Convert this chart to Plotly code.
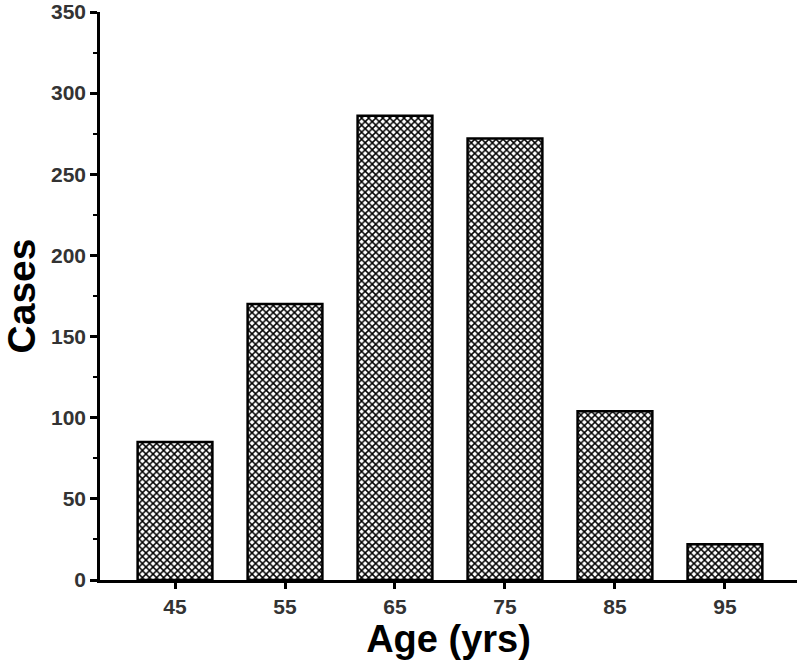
import plotly.graph_objects as go

ages = ["45", "55", "65", "75", "85", "95"]
cases = [85, 170, 286, 272, 104, 22]
y_ticks = [0, 50, 100, 150, 200, 250, 300, 350]

fig = go.Figure()
fig.add_trace(go.Bar(
    x=ages, y=cases, width=0.68,
    marker=dict(
        color="white",
        line=dict(color="black", width=2.5),
        pattern=dict(shape="x", size=5, solidity=0.5, fgcolor="black", bgcolor="white", fgopacity=1),
    ),
))

font_fam = "Liberation Sans, Arial, sans-serif"
fig.update_layout(
    width=800, height=667,
    margin=dict(l=100, r=3, t=12, b=87),
    plot_bgcolor="white", paper_bgcolor="white",
    showlegend=False,
    font=dict(family=font_fam),
    xaxis=dict(
        type="category", range=[-0.682, 5.655], automargin=False,
        showline=True, linecolor="black", linewidth=2.5,
        ticks="outside", ticklen=6, tickwidth=2.5, tickcolor="black",
        tickfont=dict(size=21, color="#333333", family=font_fam, weight="bold"),
        ticklabeloverflow="allow",
        showgrid=False, zeroline=False,
        title=dict(text="<b>Age (yrs)</b>", font=dict(size=38, color="black", family=font_fam), standoff=2),
    ),
    yaxis=dict(
        range=[0, 350], tickvals=y_ticks, automargin=False,
        showline=True, linecolor="black", linewidth=2.5,
        ticks="outside", ticklen=7, tickwidth=2.5, tickcolor="black",
        minor=dict(dtick=25, ticks="outside", ticklen=4, tickwidth=2, tickcolor="black"),
        tickfont=dict(size=21, color="#333333", family=font_fam, weight="bold"),
        ticklabeloverflow="allow",
        showgrid=False, zeroline=False,
        title=dict(text="<b>Cases</b>", font=dict(size=39, color="black", family=font_fam), standoff=19),
    ),
)

fig.write_html("out.html", config={"displayModeBar": False},
               post_script="document.body.style.margin='0';")
